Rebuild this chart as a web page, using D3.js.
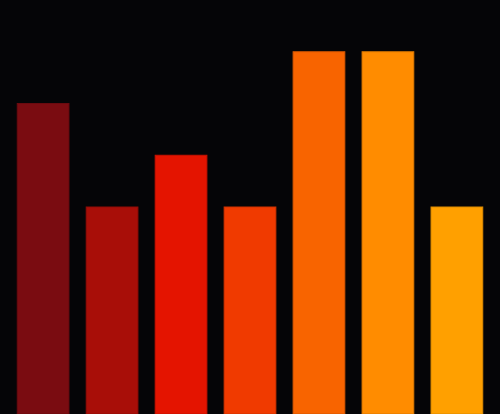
<!DOCTYPE html>
<html lang="en">
<head>
    <meta charset="UTF-8">
    <title>Bar Chart</title>
    <script src="https://d3js.org/d3.v7.min.js"></script>
    <style>
        html, body { margin: 0; padding: 0; background: #050507; overflow: hidden; }
        svg { display: block; }
    </style>
</head>
<body>
    <svg width="500" height="414"></svg>
    <script>
        // chart data
        var categories = ["A", "B", "C", "D", "E", "F", "G"];
        var values = [6, 4, 5, 4, 7, 7, 4];
        var colors = ["#7a0c11", "#a80e08", "#e41400", "#f03a00", "#f86400", "#ff8c00", "#ffa000"];

        var width = 500, height = 414;
        var svg = d3.select("svg");

        svg.append("rect")
            .attr("width", width)
            .attr("height", height)
            .attr("fill", "#050507");

        var x = d3.scaleBand()
            .domain(categories)
            .range([0, width])
            .padding(0.25);

        var y = d3.scaleLinear()
            .domain([0, 8])
            .range([height, 0]);

        svg.selectAll(".bar")
            .data(values)
            .enter().append("rect")
            .attr("class", "bar")
            .attr("x", (d, i) => x(categories[i]))
            .attr("y", d => y(d))
            .attr("width", x.bandwidth())
            .attr("height", d => y(0) - y(d))
            .attr("fill", (d, i) => colors[i])
            .attr("stroke", (d, i) => d3.color(colors[i]).darker(0.4))
            .attr("stroke-width", 1);
    </script>
</body>
</html>
